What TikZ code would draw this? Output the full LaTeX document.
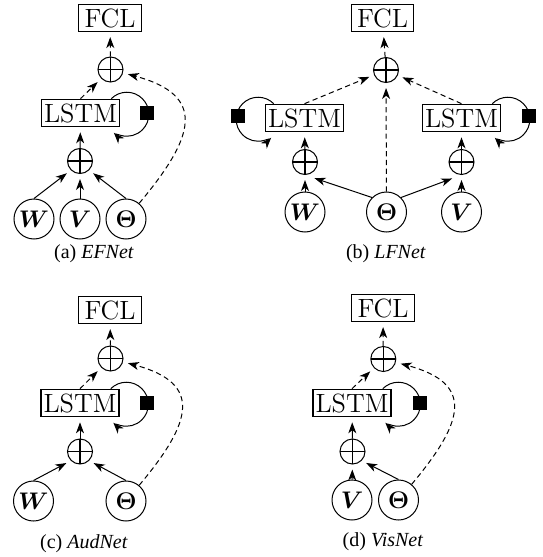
\documentclass[tikz,border=0pt]{standalone}
\usepackage{fontspec}
\usepackage{amsmath}
\usepackage{amsfonts}
\usetikzlibrary{arrows.meta}
\newfontfamily\capfont{Liberation Serif}

\begin{document}
\begin{tikzpicture}[x=0.5pt, y=0.5pt, ->, >={Stealth[length=5.5pt, width=4pt, inset=1.6pt]}, shorten >=2.5pt, line width=0.5pt,
	box node/.style={draw, font=\fontsize{13.2}{16}\selectfont, inner xsep=3pt, inner ysep=2pt},
	lstm node/.style={box node, line width=0.75pt, inner xsep=1.3pt},
	sum node/.style={circle, draw, minimum size=12.5pt, inner sep=0pt, path picture={\draw[-, shorten >=0pt, line width=0.7pt] (path picture bounding box.north) -- (path picture bounding box.south) (path picture bounding box.west) -- (path picture bounding box.east);}},
	input node/.style={circle, draw, minimum size=20pt, inner sep=0pt, font=\fontsize{12.6}{15}\selectfont},
	gate node/.style={fill, minimum size=7pt, inner sep=0pt},
	dashed edge/.style={dash pattern=on 2.6pt off 1.8pt},
	caption/.style={font=\capfont}]
	\useasboundingbox (0,0) rectangle (542,-557);

	% (a) EFNet
	\node[box node] (Fa) at (110,-18) {FCL};
	\node[sum node] (Sa) at (110.5,-69.5) {};
	\node[lstm node] (La) at (80.5,-113) {LSTM};
	\node[gate node] (Ga) at (147,-113) {};
	\node[sum node] (Pa) at (80,-161) {};
	\node[input node] (Wa) at (34,-219) {$\boldsymbol{W}$};
	\node[input node] (Va) at (80,-219) {$\boldsymbol{V}$};
	\node[input node] (Ta) at (126,-219) {$\boldsymbol{\Theta}$};
	\node[caption] (ca) at (94,-254) {(a) \textit{EFNet}};

	\path
		(Wa.north) edge (Pa.south west)
		(Va) edge (Pa)
		(Ta.north) edge (Pa.south east)
		(Pa) edge (La)
		(La.north) edge[dashed edge] (Sa)
		(Sa) edge[dashed edge] (Fa)
		(Ta) edge[dashed edge, out=50, in=-15, looseness=1.7] (Sa)
	;
	\draw ([xshift=-4.5pt]La.north east) arc[start angle=135, end angle=-138, radius=11pt];

	% (b) LFNet
	\node[box node] (Fb) at (382.5,-18) {FCL};
	\node[sum node] (Sb) at (386,-70) {};
	\node[lstm node] (Lb1) at (304.5,-118) {LSTM};
	\node[lstm node] (Lb2) at (461.5,-118) {LSTM};
	\node[gate node] (Gb1) at (238,-116) {};
	\node[gate node] (Gb2) at (529,-116) {};
	\node[sum node] (Pb1) at (305,-162) {};
	\node[sum node] (Pb2) at (461.5,-162) {};
	\node[input node] (Wb) at (305,-212) {$\boldsymbol{W}$};
	\node[input node] (Tb) at (386.5,-212) {$\boldsymbol{\Theta}$};
	\node[input node] (Vb) at (461.5,-212) {$\boldsymbol{V}$};
	\node[caption] (cb) at (386,-254) {(b) \textit{LFNet}};

	\path
		(Wb) edge (Pb1)
		(Vb) edge (Pb2)
		(Tb.north west) edge[shorten >=5pt] (Pb1.south)
		(Tb.north east) edge[shorten >=5pt] (Pb2.south)
		(Pb1) edge (Lb1)
		(Pb2) edge (Lb2)
		(Lb1.north) edge[dashed edge] (Sb)
		(Lb2.north) edge[dashed edge] (Sb)
		(Tb) edge[dashed edge] (Sb)
		(Sb) edge[dashed edge] (Fb)
	;
	\draw ([xshift=4.5pt]Lb1.north west) arc[start angle=45, end angle=318, radius=11pt];
	\draw ([xshift=-4.5pt]Lb2.north east) arc[start angle=135, end angle=-138, radius=11pt];

	% (c) AudNet
	\node[box node] (Fc) at (110,-310) {FCL};
	\node[sum node] (Sc) at (110.5,-358.5) {};
	\node[lstm node] (Lc) at (80,-403) {LSTM};
	\node[gate node] (Gc) at (147,-403) {};
	\node[sum node] (Pc) at (80,-451.5) {};
	\node[input node] (Wc) at (33.5,-501) {$\boldsymbol{W}$};
	\node[input node] (Tc) at (126,-501) {$\boldsymbol{\Theta}$};
	\node[caption] (cc) at (84,-544) {(c) \textit{AudNet}};

	\path
		(Wc.north) edge (Pc.south west)
		(Tc.north) edge (Pc.south east)
		(Pc) edge (Lc)
		(Lc.north) edge[dashed edge] (Sc)
		(Sc) edge[dashed edge] (Fc)
		(Tc) edge[dashed edge, out=50, in=-15, looseness=1.7] (Sc)
	;
	\draw ([xshift=-4.5pt]Lc.north east) arc[start angle=135, end angle=-138, radius=11pt];

	% (d) VisNet
	\node[box node] (Fd) at (383,-308) {FCL};
	\node[sum node] (Sd) at (383.3,-359) {};
	\node[lstm node] (Ld) at (352,-403) {LSTM};
	\node[gate node] (Gd) at (420,-403) {};
	\node[sum node] (Pd) at (352.5,-451.5) {};
	\node[input node] (Vd) at (352,-500) {$\boldsymbol{V}$};
	\node[input node] (Td) at (398.5,-500) {$\boldsymbol{\Theta}$};
	\node[caption] (cd) at (383,-542) {(d) \textit{VisNet}};

	\path
		(Vd) edge (Pd)
		(Td.north) edge (Pd.south east)
		(Pd) edge (Ld)
		(Ld.north) edge[dashed edge] (Sd)
		(Sd) edge[dashed edge] (Fd)
		(Td) edge[dashed edge, out=50, in=-15, looseness=1.7] (Sd)
	;
	\draw ([xshift=-4.5pt]Ld.north east) arc[start angle=135, end angle=-138, radius=11pt];
\end{tikzpicture}
\end{document}
